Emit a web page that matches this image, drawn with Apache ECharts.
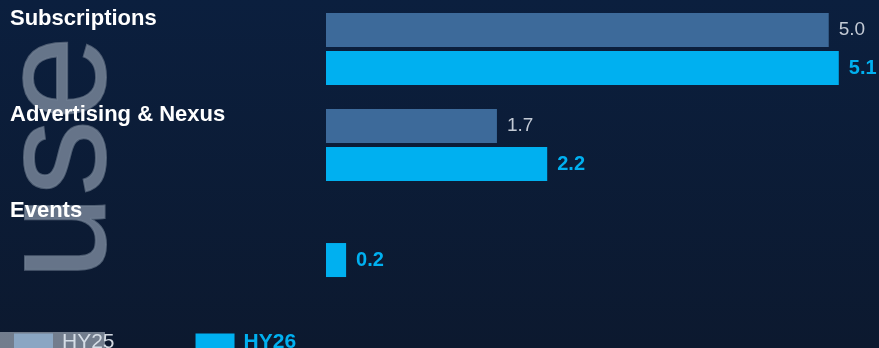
<!DOCTYPE html>
<html><head><meta charset="utf-8">
<script src="https://cdn.jsdelivr.net/npm/echarts@6/dist/echarts.min.js"></script>
<style>html,body{margin:0;padding:0;background:#0b1d38;}#c{width:879px;height:348px;}</style>
</head><body><div id="c"></div>
<script>
const categories = ['Subscriptions', 'Advertising & Nexus', 'Events'];
const seriesNames = ['HY25', 'HY26'];
const hy25 = [5.0, 1.7, null];
const hy26 = [5.1, 2.2, 0.2];
const watermark = 'use';

const FONT = '"Liberation Sans", Arial, sans-serif';
const chart = echarts.init(document.getElementById('c'), null, {renderer: 'canvas'});
chart.setOption({
  animation: false,
  backgroundColor: {type: 'linear', x: 0, y: 0, x2: 0, y2: 1, colorStops: [
    {offset: 0, color: '#0b1f3e'}, {offset: 1, color: '#0c192f'}]},
  graphic: [
    {type: 'text', left: -13, top: 35, rotation: Math.PI / 2, z: -10,
     style: {text: watermark, font: '151px "Liberation Sans", Arial, sans-serif',
             fill: 'rgba(112,126,146,0.9)', stroke: 'rgba(82,97,118,0.95)', lineWidth: 2}},
    {type: 'rect', shape: {x: 0, y: 332, width: 105, height: 16}, z: 100,
     style: {fill: 'rgba(215,225,235,0.5)'}}
  ],
  grid: {left: 326, top: 1, width: 557, height: 288, containLabel: false},
  xAxis: {type: 'value', min: 0, max: 5.5, show: false},
  yAxis: {type: 'category', data: categories, inverse: true,
    axisLine: {show: false}, axisTick: {show: false}, splitLine: {show: false},
    axisLabel: {align: 'left', margin: 316,
      formatter: v => '{a|' + v + '}',
      rich: {a: {color: '#ffffff', fontWeight: 'bold', fontSize: 22, fontFamily: FONT,
                 padding: [0, 0, 60, 0]}}}},
  legend: {left: 14, top: 332, itemWidth: 39, itemHeight: 18, itemGap: 81, icon: 'rect',
    padding: 0,
    data: [
      {name: seriesNames[0], textStyle: {color: '#d3d9e1', fontSize: 21, fontWeight: 'normal', padding: [0, 0, 0, 4]}},
      {name: seriesNames[1], textStyle: {color: '#00b0f0', fontSize: 21, fontWeight: 'bold', padding: [0, 0, 0, 4]}}
    ],
    textStyle: {fontFamily: FONT}},
  series: [
    {name: seriesNames[0], type: 'bar', data: hy25, barWidth: 34, barGap: '12%',
     itemStyle: {color: '#3d6a9a'},
     label: {show: true, position: 'right', distance: 10, color: '#c3cad5', fontSize: 19,
       fontFamily: FONT,
       formatter: p => p.value == null ? '' : p.value.toFixed(1)}},
    {name: seriesNames[1], type: 'bar', data: hy26, barWidth: 34,
     itemStyle: {color: '#00b0f0'},
     label: {show: true, position: 'right', distance: 10, color: '#00b0f0', fontSize: 20, fontWeight: 'bold',
       fontFamily: FONT,
       formatter: p => p.value.toFixed(1)}}
  ]
});
</script></body></html>
